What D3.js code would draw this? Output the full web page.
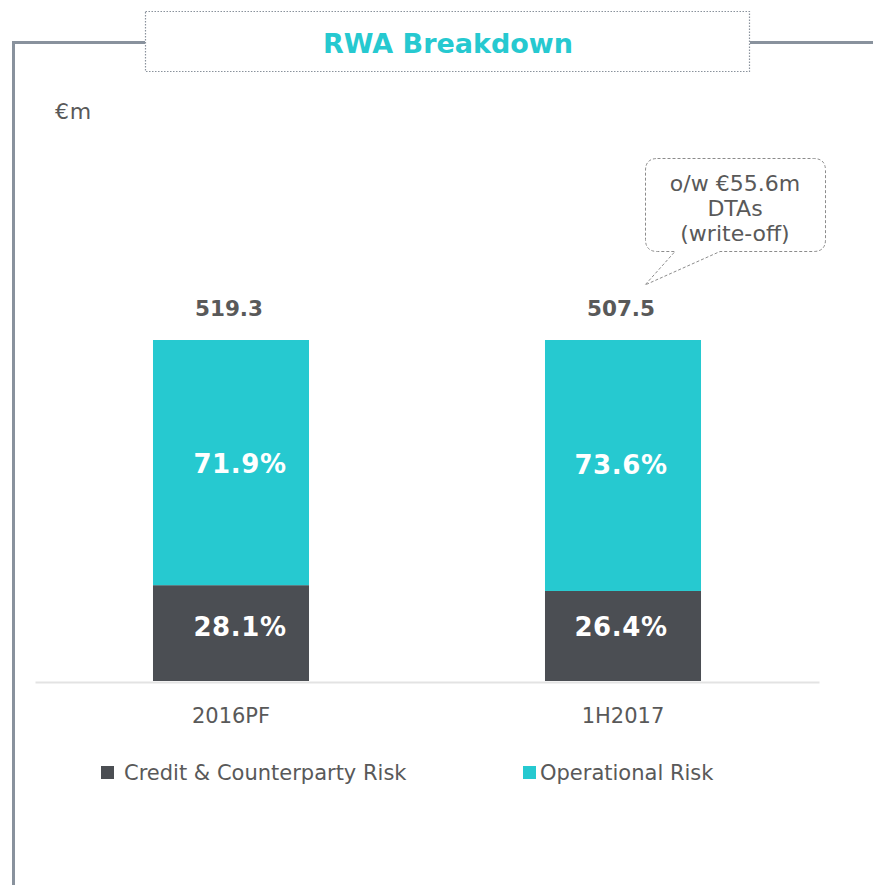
<!DOCTYPE html>
<html>
<head>
<meta charset="utf-8">
<script src="https://cdn.jsdelivr.net/npm/d3@7"></script>
<style>
  body { margin: 0; background: #fff; }
  text { font-family: "DejaVu Sans", Verdana, sans-serif; }
</style>
</head>
<body>
<svg id="chart" width="873" height="885"></svg>
<script>
// data
var periods = ["2016PF", "1H2017"];
var totals = [519.3, 507.5];
var creditPct = [28.1, 26.4];
var operationalPct = [71.9, 73.6];
var seriesNames = ["Credit & Counterparty Risk", "Operational Risk"];
var calloutLines = ["o/w €55.6m", "DTAs", "(write-off)"];

var teal = "#26c9d0", dark = "#4b4e53", grey = "#595959";

var svg = d3.select("#chart");

// frame + title box
svg.append("path")
  .attr("d", "M13.5,885 V42.5 H145 M750,42.5 H873")
  .attr("fill", "none").attr("stroke", "#89929d").attr("stroke-width", 3);
svg.append("rect")
  .attr("x", 145.5).attr("y", 11.5).attr("width", 604).attr("height", 60)
  .attr("fill", "#fff").attr("stroke", "#8a929c").attr("stroke-width", 1.2)
  .attr("stroke-dasharray", "1.5,1.5");
svg.append("text")
  .attr("x", 448).attr("y", 53).attr("text-anchor", "middle")
  .attr("font-size", 27).attr("font-weight", "bold").attr("fill", teal)
  .text("RWA Breakdown");

svg.append("text")
  .attr("x", 55).attr("y", 119).attr("font-size", 22).attr("fill", grey)
  .attr("letter-spacing", 0.8)
  .text("€m");

// scales
var x = d3.scaleBand().domain(periods).range([35, 819])
  .paddingInner(0.602).paddingOuter(0.301);
var y = d3.scaleLinear().domain([0, 100]).range([681, 340]);

// stacked bars
var rows = periods.map(function (p, i) {
  return { period: p, credit: creditPct[i], operational: operationalPct[i] };
});
var stack = d3.stack().keys(["credit", "operational"])(rows);
var colors = { credit: dark, operational: teal };

svg.append("g").selectAll("g")
  .data(stack).enter().append("g")
  .attr("fill", function (s) { return colors[s.key]; })
  .selectAll("rect")
  .data(function (s) { return s; })
  .enter().append("rect")
  .attr("x", function (d) { return x(d.data.period); })
  .attr("width", x.bandwidth())
  .attr("y", function (d) { return y(d[1]); })
  .attr("height", function (d) { return y(d[0]) - y(d[1]); });

// segment labels (nudged to where the original sits them)
var labelDy = { credit: [-6, -9], operational: [1, -1] };
svg.append("g").selectAll("g")
  .data(stack).enter().append("g")
  .selectAll("text")
  .data(function (s) { return s.map(function (d) { return { d: d, key: s.key }; }); })
  .enter().append("text")
  .attr("x", function (o, i) { return x(o.d.data.period) + x.bandwidth() / 2 + (i === 0 ? 9 : -2); })
  .attr("y", function (o, i) { return (y(o.d[0]) + y(o.d[1])) / 2 + labelDy[o.key][i]; })
  .attr("dy", "0.36em")
  .attr("text-anchor", "middle")
  .attr("font-size", 26).attr("font-weight", "bold").attr("fill", "#fff")
  .attr("letter-spacing", 0.6)
  .text(function (o) { return o.d.data[o.key].toFixed(1) + "%"; });

// totals
svg.append("g").selectAll("text")
  .data(totals).enter().append("text")
  .attr("x", function (d, i) { return x(periods[i]) + x.bandwidth() / 2 - 2; })
  .attr("y", 316)
  .attr("text-anchor", "middle")
  .attr("font-size", 21.5).attr("font-weight", "bold").attr("fill", grey)
  .text(function (d) { return d.toFixed(1); });

// axis
var axis = svg.append("g")
  .attr("transform", "translate(0,682)")
  .call(d3.axisBottom(x).tickSize(0).tickPadding(26)
    .tickSizeOuter(0));
axis.select(".domain").attr("stroke", "#e3e3e3").attr("stroke-width", 2);
axis.selectAll("text")
  .attr("font-size", 21).attr("fill", grey)
  .style("font-family", "DejaVu Sans, Verdana, sans-serif");

// legend
var legendX = [101, 523];
var lg = svg.append("g").selectAll("g")
  .data(seriesNames).enter().append("g")
  .attr("transform", function (d, i) { return "translate(" + legendX[i] + ",766)"; });
lg.append("rect").attr("width", 13).attr("height", 13)
  .attr("fill", function (d, i) { return i === 0 ? dark : teal; });
lg.append("text")
  .attr("x", function (d, i) { return i === 0 ? 23 : 17; })
  .attr("y", 6.5).attr("dy", "0.36em")
  .attr("font-size", 21).attr("fill", grey)
  .text(function (d) { return d; });

// callout bubble
var bx0 = 645.5, bx1 = 825.5, by0 = 158.5, by1 = 251.5, r = 12;
var bubble = d3.path();
bubble.moveTo(bx0 + r, by0);
bubble.lineTo(bx1 - r, by0);
bubble.quadraticCurveTo(bx1, by0, bx1, by0 + r);
bubble.lineTo(bx1, by1 - r);
bubble.quadraticCurveTo(bx1, by1, bx1 - r, by1);
bubble.lineTo(720, by1);
bubble.lineTo(645, 285);
bubble.lineTo(675, by1);
bubble.lineTo(bx0 + r, by1);
bubble.quadraticCurveTo(bx0, by1, bx0, by1 - r);
bubble.lineTo(bx0, by0 + r);
bubble.quadraticCurveTo(bx0, by0, bx0 + r, by0);
bubble.closePath();
svg.append("path").attr("d", bubble.toString())
  .attr("fill", "#fff").attr("stroke", "#8c8c8c").attr("stroke-width", 1)
  .attr("stroke-dasharray", "3,2");
svg.append("g").selectAll("text")
  .data(calloutLines).enter().append("text")
  .attr("x", 735).attr("y", function (d, i) { return 191 + i * 25; })
  .attr("text-anchor", "middle").attr("font-size", 22).attr("fill", grey)
  .text(function (d) { return d; });
</script>
</body>
</html>
